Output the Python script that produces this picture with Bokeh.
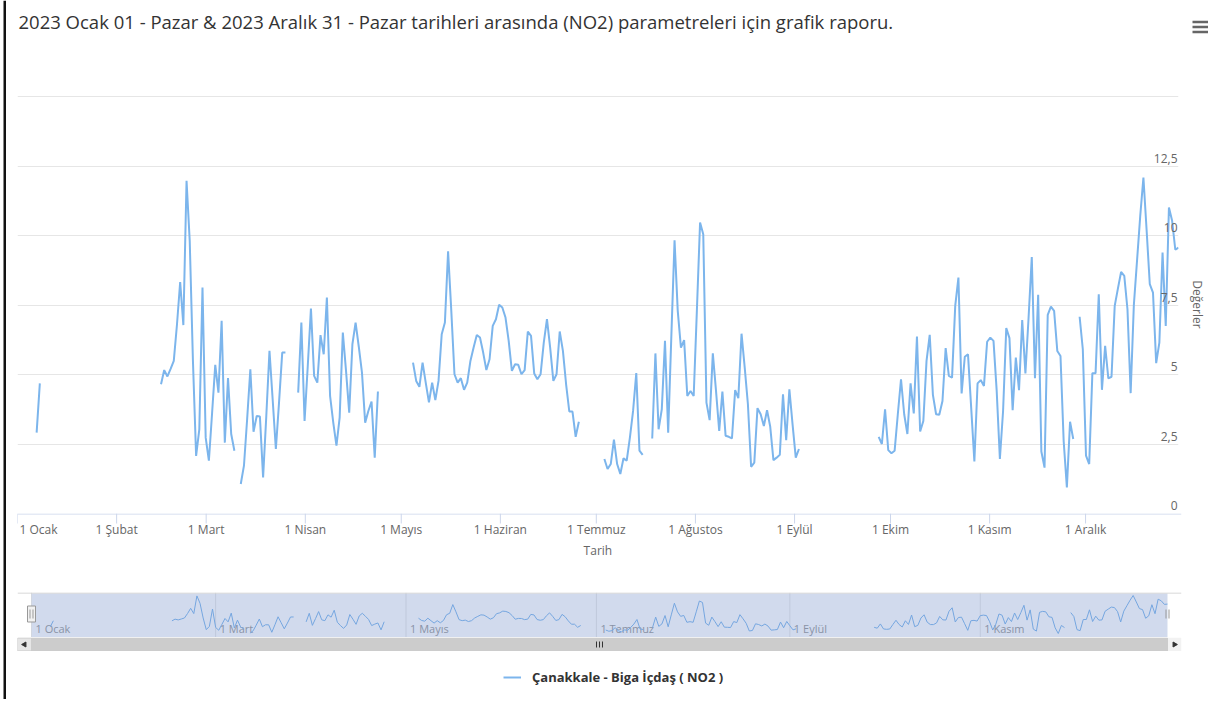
import numpy as np
import pandas as pd
from datetime import datetime, timedelta
from math import pi
from bokeh.plotting import figure
from bokeh.models import Range1d, FixedTicker, Legend, LegendItem, ColumnDataSource
from bokeh.layouts import column, row
from bokeh.embed import file_html
from bokeh.resources import INLINE
from bokeh.core.properties import value

FONT = "Open Sans"
LINE_COLOR = "#7cb5ec"

title_text = ("2023 Ocak 01 - Pazar & 2023 Aralık 31 - Pazar tarihleri arasında "
              "(NO2) parametreleri için grafik raporu.")
series_name = "Çanakkale - Biga İçdaş ( NO2 )"
x_title = "Tarih"
y_title = "Değerler"

# ---- daily NO2 values (segments start dates; missing days are gaps) ----
no2_jan07 = [2.91, 4.68]
no2_feb15 = [4.65, 5.16, 4.93, 5.2, 5.49, 6.8, 8.33, 6.78, 11.97, 9.8, 5.5, 2.07,
             3.03, 8.13, 2.73, 1.9, 3.6, 5.35, 4.35, 6.93, 2.55, 4.87, 2.86, 2.26]
no2_mar12 = [1.06, 1.72, 3.4, 5.19, 2.94, 3.51, 3.49, 1.3, 3.5, 5.85, 4.1, 2.32,
             4.0, 5.79, 5.79]
no2_mar30 = [4.35, 6.87, 3.33, 5.3, 7.37, 4.95, 4.71, 6.42, 5.73, 7.77, 4.23, 3.27,
             2.44, 3.45, 6.51, 5.13, 3.63, 6.09, 6.87, 6.0, 5.07, 3.27, 3.69, 4.03,
             2.01, 4.39]
no2_may05 = [5.43, 4.77, 4.56, 5.43, 4.7, 4.0, 4.71, 4.08, 4.77, 6.45, 6.87, 9.43,
             7.3, 5.01, 4.71, 4.87, 4.45, 4.71, 5.49, 5.97, 6.42, 6.33, 5.79, 5.16,
             5.55, 6.75, 6.99, 7.51, 7.41, 7.05, 6.21, 5.13, 5.37, 5.35, 5.01, 5.16,
             6.55, 6.39, 5.04, 4.83, 5.01, 6.15, 6.99, 5.97, 4.77, 5.01, 6.55, 5.85,
             4.65, 3.67, 3.67, 2.76, 3.3]
no2_jul04 = [1.96, 1.6, 1.78, 2.66, 1.78, 1.42, 1.99, 1.9, 2.73, 3.69, 5.05, 2.26, 2.11]
no2_jul19 = [2.7, 5.76, 3.03, 3.75, 6.21, 2.91, 6.4, 9.83, 7.29, 5.97, 6.24, 4.23,
             4.41, 4.23, 7.3, 10.47, 10.05, 3.99, 3.36, 5.76, 4.41, 2.97, 4.39, 2.8,
             2.76, 2.7, 4.44, 4.15, 6.47, 5.25, 3.93, 1.68, 1.83, 3.79, 3.57, 3.15,
             3.72, 3.12, 1.92, 2.01, 2.11, 4.29, 2.64, 4.47, 3.21, 2.01, 2.32]
no2_sep28 = [2.76, 2.5, 3.75, 2.28, 2.17, 2.26, 3.57, 4.83, 3.57, 2.86, 4.68, 3.6,
             6.37, 2.95, 3.33, 5.49, 6.43, 4.27, 3.57, 3.55, 4.05, 5.95, 4.95, 4.89,
             7.47, 8.49, 4.32, 5.64, 5.73, 3.81, 1.87, 4.68, 4.8, 4.59, 6.18, 6.33,
             6.21, 4.41, 1.96, 3.69, 6.67, 6.31, 3.72, 5.61, 4.44, 6.96, 5.04, 7.05,
             9.23, 4.87, 7.87, 2.23, 1.65, 7.15, 7.44, 7.29, 5.85, 5.67, 2.6, 0.94,
             3.3, 2.68]
no2_nov30 = [7.08, 5.91, 2.08, 1.78, 5.05, 5.05, 7.89, 4.45, 6.03, 4.86, 4.92, 7.47,
             8.09, 8.69, 8.55, 7.35, 4.33, 7.5, 9.1, 10.7, 12.09, 10.2, 8.25, 7.95,
             5.41, 6.15, 9.39, 6.75, 11.01, 10.53, 9.49, 9.57]

segments = [("2023-01-07", no2_jan07), ("2023-02-15", no2_feb15),
            ("2023-03-12", no2_mar12), ("2023-03-30", no2_mar30),
            ("2023-05-05", no2_may05), ("2023-07-04", no2_jul04),
            ("2023-07-19", no2_jul19), ("2023-09-28", no2_sep28),
            ("2023-11-30", no2_nov30)]

month_labels = ["1 Ocak", "1 Şubat", "1 Mart", "1 Nisan", "1 Mayıs", "1 Haziran",
                "1 Temmuz", "1 Ağustos", "1 Eylül", "1 Ekim", "1 Kasım", "1 Aralık"]
nav_labels = ["1 Ocak", "1 Mart", "1 Mayıs", "1 Temmuz", "1 Eylül", "1 Kasım"]
y_ticks = [0, 2.5, 5, 7.5, 10, 12.5]
y_tick_labels = ["0", "2,5", "5", "7,5", "10", "12,5"]
y_grid = [2.5, 5, 7.5, 10, 12.5, 15]

# ---- build the daily series ----
days = pd.date_range("2023-01-01", "2023-12-31", freq="D")
vals = np.full(len(days), np.nan)
for start, seg in segments:
    i = (pd.Timestamp(start) - days[0]).days
    vals[i:i + len(seg)] = seg
src = ColumnDataSource(dict(x=days, y=vals))

month_starts = pd.date_range("2023-01-01", periods=12, freq="MS")
nav_ticks = month_starts[::2]
t0 = datetime(2023, 1, 1)
t1 = datetime(2023, 12, 31)

TOTAL_H = 699
STRIP = 6                 # left strip holding the dark page border
W = 1202                  # width of the chart column
LB, RB = 11, 27           # frame spans page x 17 .. 1181


def make_fig(**kw):
    base = dict(output_backend="svg", toolbar_location=None, frame_align=False,
                x_axis_location=None, y_axis_location=None)
    base.update(kw)
    p = figure(**base)
    p.outline_line_color = None
    p.background_fill_color = "white"
    p.border_fill_color = "white"
    for g in p.grid:
        g.visible = False
    return p


# ---- left border strip ----
bf = make_fig(width=STRIP, height=TOTAL_H, x_range=Range1d(0, STRIP),
              y_range=Range1d(0, TOTAL_H), min_border=0)
bf.quad(left=[3], right=[5.5], bottom=[0], top=[TOTAL_H], fill_color="#111111",
        line_color=None)

# ---- header (title + menu icon) ----
hf = make_fig(width=W, height=95, x_range=Range1d(0, W), y_range=Range1d(95, 0),
              min_border=0)
hf.text(x=[12], y=[21], text=[title_text], text_font=value(FONT),
        text_font_size="18.5px", text_color="#333333", text_baseline="middle",
        text_align="left")
hf.segment(x0=[1186, 1186, 1186], x1=[1203, 1203, 1203], y0=[21.5, 26.5, 31.5],
           y1=[21.5, 26.5, 31.5], line_color="#666666", line_width=2.5)

# ---- main chart ----
xr = Range1d(start=t0, end=t1)
p = make_fig(width=W, height=418, x_range=xr, y_range=Range1d(0, 15.04),
             y_axis_location="right", min_border_left=LB, min_border_right=RB,
             min_border_top=0, min_border_bottom=0)
p.ygrid.visible = True
p.ygrid.ticker = FixedTicker(ticks=y_grid)
p.ygrid.grid_line_color = "#e6e6e6"
ya = p.yaxis[0]
ya.ticker = FixedTicker(ticks=[])
ya.axis_line_color = None
ya.major_tick_line_color = None
ya.minor_tick_line_color = None
ya.major_tick_out = 0
ya.major_tick_in = 0
ya.minor_tick_out = 0
ya.major_label_standoff = 0
ya.axis_label = y_title
ya.axis_label_standoff = 10
ya.axis_label_text_font = FONT
ya.axis_label_text_font_size = "12px"
ya.axis_label_text_font_style = "normal"
ya.axis_label_text_color = "#666666"

p.line("x", "y", source=src, line_color=LINE_COLOR, line_width=2)
ylab_src = ColumnDataSource(dict(x=[t1] * len(y_ticks), y=y_ticks, t=y_tick_labels))
p.text(x="x", y="y", text="t", source=ylab_src, text_align="right",
       text_baseline="middle", x_offset=-1, y_offset=-8,
       text_font=value(FONT), text_font_size="12px", text_color="#666666")

# ---- x axis strip ----
af = make_fig(width=W, height=50, x_range=xr, y_range=Range1d(50, 0),
              min_border_left=LB, min_border_right=RB, min_border_top=0,
              min_border_bottom=0)
af.segment(x0=[t0], x1=[t1], y0=[0.5], y1=[0.5], line_color="#ccd6eb", line_width=1)
af.segment(x0=month_starts, x1=month_starts, y0=0, y1=10, line_color="#ccd6eb",
           line_width=1)
lab_src = ColumnDataSource(dict(x=month_starts[1:], t=month_labels[1:]))
af.text(x="x", y=16, text="t", source=lab_src, text_align="center",
        text_baseline="middle", text_font=value(FONT), text_font_size="12px",
        text_color="#666666")
af.text(x=[month_starts[0]], y=[16], text=[month_labels[0]], text_align="left",
        x_offset=2, text_baseline="middle", text_font=value(FONT),
        text_font_size="12px", text_color="#666666")
af.text(x=[datetime(2023, 7, 1, 12)], y=[37], text=[x_title], text_align="center",
        text_baseline="middle", text_font=value(FONT), text_font_size="12px",
        text_color="#666666")

# ---- navigator ----
px_per_day = (1167 - 31) / 364.0
pad = timedelta(days=14 / px_per_day)
nr = Range1d(start=t0 - pad, end=t1 + pad)
nf = make_fig(width=W, height=74, x_range=nr, y_range=Range1d(45, 0),
              min_border_left=LB, min_border_right=RB, min_border_top=29,
              min_border_bottom=0)
nf.extra_y_ranges = {"nav": Range1d(-0.23, 12.97)}
nf.segment(x0=nav_ticks, x1=nav_ticks, y0=0, y1=45, line_color="#e6e6e6")
nlab = ColumnDataSource(dict(x=nav_ticks, t=nav_labels))
nf.text(x="x", y=36, text="t", source=nlab, x_offset=4, text_align="left",
        text_baseline="middle", text_font=value(FONT), text_font_size="11px",
        text_color="#999999")
nf.line("x", "y", source=src, y_range_name="nav", line_color=LINE_COLOR,
        line_width=1)
nf.quad(left=[t0], right=[t1], top=[1], bottom=[45], fill_color="#6685c2",
        fill_alpha=0.3, line_color=None)
nf.segment(x0=[t0 - pad], x1=[t1 + pad], y0=[0.5], y1=[0.5], line_color="#cccccc")
nf.rect(x=[t0, t1], y=[21.5], width=8, height=16, width_units="screen",
        height_units="screen", fill_color="#f2f2f2", line_color="#999999")
hd = timedelta(days=1.5 / px_per_day)
nf.segment(x0=[t0 - hd, t0 + hd, t1 - hd, t1 + hd],
           x1=[t0 - hd, t0 + hd, t1 - hd, t1 + hd],
           y0=17, y1=26, line_color="#999999")

# ---- scrollbar ----
sf = make_fig(width=W, height=14, x_range=nr, y_range=Range1d(14, 0),
              min_border_left=LB, min_border_right=RB, min_border_top=0,
              min_border_bottom=0)
sf.quad(left=[t0 - pad], right=[t1 + pad], top=[0], bottom=[14],
        fill_color="#f2f2f2", line_color=None)
sf.quad(left=[t0], right=[t1], top=[0.5], bottom=[13.5], fill_color="#cccccc",
        line_color="#cccccc")
sf.quad(left=[t0 - pad, t1], right=[t0, t1 + pad], top=[0.5], bottom=[13.5],
        fill_color="#e6e6e6", line_color="#cccccc")
sf.scatter(x=[t0 - pad / 2, t1 + pad / 2], y=[7, 7], marker="triangle", size=5,
           angle=[pi / 2, -pi / 2], fill_color="#333333", line_color="#333333")
mid = t0 + (t1 - t0) / 2
rd = timedelta(days=3 / px_per_day)
sf.segment(x0=[mid - rd, mid, mid + rd], x1=[mid - rd, mid, mid + rd],
           y0=4, y1=10, line_color="#333333")

# ---- legend ----
lf = make_fig(width=W, height=48, x_range=Range1d(0, W), y_range=Range1d(0, 48),
              min_border=0)
dummy = lf.line(x=[-20, -10], y=[-20, -20], line_color=LINE_COLOR, line_width=2)
legend = Legend(items=[LegendItem(label=series_name, renderers=[dummy])],
                location=(497, 13), orientation="horizontal",
                label_text_font=FONT, label_text_font_size="13px",
                label_text_font_style="bold", label_text_color="#333333",
                glyph_width=18, glyph_height=16, label_standoff=11, padding=0,
                margin=0, border_line_color=None, background_fill_alpha=0)
lf.add_layout(legend)

inner = column(hf, p, af, nf, sf, lf, spacing=0)
layout = row(bf, inner, spacing=0)
open("out.html", "w").write(file_html(layout, INLINE))
